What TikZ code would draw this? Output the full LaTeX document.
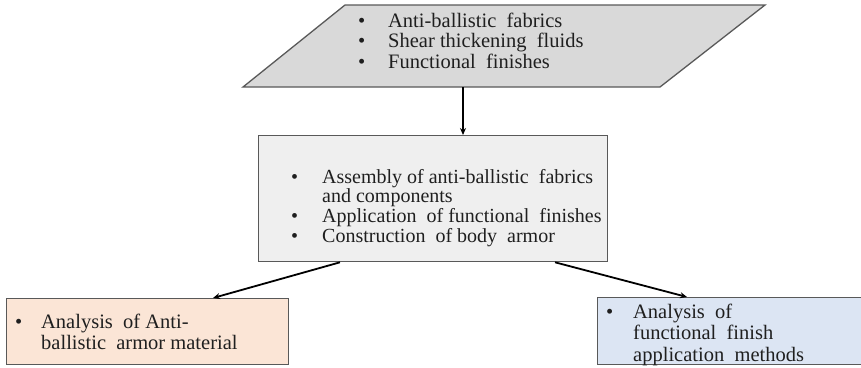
\documentclass[tikz,border=0pt]{standalone}
\usepackage{fontspec}
\setmainfont{Liberation Serif}
\usetikzlibrary{calc,arrows.meta}
\definecolor{edgegray}{HTML}{595959}
\definecolor{srcfill}{HTML}{D9D9D9}
\definecolor{midfill}{HTML}{EFEFEF}
\definecolor{peach}{HTML}{FBE5D6}
\definecolor{paleblue}{HTML}{DCE5F3}
\definecolor{inkgray}{HTML}{1F1F1F}
\tikzset{
  box/.style={draw=edgegray, line width=1.3pt, inner sep=0pt, anchor=north west},
  txt/.style={inner sep=0pt, anchor=base west, align=left, text=inkgray},
  link/.style={draw=black, line width=1.8pt, -{Stealth[length=7pt,width=6pt]}}
}
% bullet list laid out as a two-column table: bullet column of width #1
\newcommand{\bulletrows}[2]{\begin{tabular}[t]{@{}p{#1}@{}l@{}}#2\end{tabular}}
\begin{document}
\begin{tikzpicture}[x=1pt,y=-1pt]
\useasboundingbox (0,0) rectangle (861,367);
% source parallelogram
\draw[fill=srcfill, draw=edgegray, line width=1.3pt]
  (345,5) -- (765,5) -- (660,87) -- (243,87) -- cycle;
\coordinate (srcbot) at (463,87);
\node[txt] (srctext) at (358,27) {\fontsize{20.5}{20.5}\selectfont\bulletrows{30pt}{%
  \textbullet & Anti-ballistic\ \ fabrics\\
  \textbullet & Shear thickening\ \ fluids\\
  \textbullet & Functional\ \ finishes}};
% middle process box
\node[box, fill=midfill, minimum width=349pt, minimum height=126pt] (mid) at (258,135) {};
\node[txt] (midtext) at (291,183) {\fontsize{20}{19.7}\selectfont\bulletrows{31pt}{%
  \textbullet & Assembly of anti-ballistic\ \ fabrics\\
   & and components\\
  \textbullet & Application\ \ of functional\ \ finishes\\
  \textbullet & Construction\ \ of body\ \ armor}};
% analysis boxes
\node[box, fill=peach, minimum width=282pt, minimum height=66pt] (lbox) at (6,298) {};
\node[txt] (ltext) at (15,328) {\fontsize{20.5}{21.5}\selectfont\bulletrows{26pt}{%
  \textbullet & Analysis\ \ of Anti-\\
   & ballistic\ \ armor material}};
\node[box, fill=paleblue, minimum width=270pt, minimum height=67pt] (rbox) at (597,297) {};
\node[txt] (rtext) at (606,318) {\fontsize{20.5}{21.5}\selectfont\bulletrows{27pt}{%
  \textbullet & Analysis\ \ of\\
   & functional\ \ finish\\
   & application\ \ methods}};
% connectors
\draw[link] (srcbot) -- (mid.north -| srcbot);
\draw[link] ($(mid.south west)+(82,0)$) -- ($(lbox.north west)+(207,0)$);
\draw[link] ($(mid.south west)+(297,0)$) -- ($(rbox.north west)+(90,0)$);
\end{tikzpicture}
\end{document}
